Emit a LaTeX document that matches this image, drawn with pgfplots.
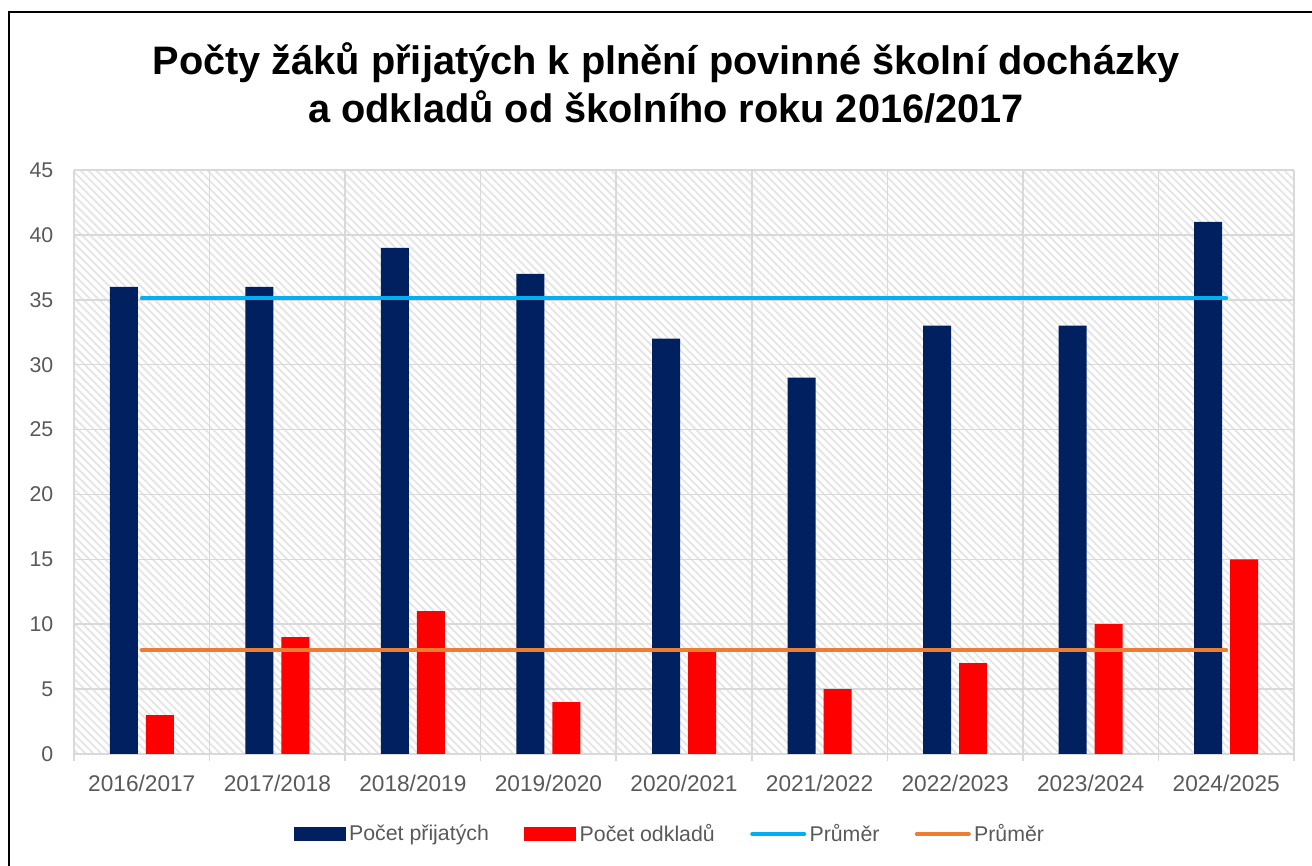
\documentclass[border=0pt]{standalone}
\usepackage{pgfplots}
\pgfplotsset{compat=1.18}
\usepackage{fontspec}
\setmainfont{Liberation Sans}
\usetikzlibrary{patterns.meta}
\definecolor{navy}{HTML}{002060}
\definecolor{avgblue}{HTML}{00B0F0}
\definecolor{avgorange}{HTML}{ED7D31}
\definecolor{txtgray}{HTML}{595959}
\definecolor{gridgray}{HTML}{D9D9D9}
\begin{document}
\begin{tikzpicture}
\path[use as bounding box] (0,0) rectangle (984pt,649.5pt);
\draw[line width=1.5pt] (6.75pt,-5pt) -- (6.75pt,640.5pt) -- (990pt,640.5pt);
\node[align=center, font=\fontsize{29.8}{36}\selectfont\bfseries] at (499.5pt,587.5pt)
  {Počty žáků přijatých k plnění povinné školní docházky\\a odkladů od školního roku 2016/2017};
\begin{axis}[
  at={(55.5pt,84pt)}, anchor=south west,
  scale only axis, width=915pt, height=438pt,
  xmin=-0.5, xmax=8.5, ymin=0, ymax=45,
  ytick={0,5,...,45},
  xtick={0,...,8},
  xticklabels={2016/2017,2017/2018,2018/2019,2019/2020,2020/2021,2021/2022,2022/2023,2023/2024,2024/2025},
  minor xtick={-0.5,0.5,...,8.5},
  x tick style={draw=none},
  minor x tick style={draw=gridgray, line width=1.2pt},
  minor tick length=5pt,
  xminorgrids=true, ymajorgrids=true,
  grid style={draw=gridgray, line width=1.2pt},
  minor grid style={draw=gridgray, line width=1.2pt},
  y tick style={draw=none},
  axis line style={draw=none},
  axis x line*=bottom,
  x axis line style={draw=gridgray, line width=1.2pt},
  yticklabel style={font=\fontsize{16}{19}\selectfont, text=txtgray, xshift=-12pt},
  xticklabel style={font=\fontsize{17}{20}\selectfont, text=txtgray, yshift=-8pt},
  /pgf/number format/assume math mode=true,
  axis background/.style={pattern={Lines[angle=-45,distance=4.2pt,line width=1.4pt]}, pattern color=gray!20},
  ybar, bar width=21pt,
  legend columns=4,
  legend style={at={(0.489,-0.137)}, anchor=center, draw=none, fill=none,
    font=\fontsize{16}{19}\selectfont, text=txtgray, column sep=0pt,
    nodes={inner xsep=2.5pt}},
  legend cell align=left,
]
\addplot[fill=navy, draw=none, bar shift=-13.5pt,
  legend image code/.code={\fill[navy] (0pt,-5pt) rectangle (39pt,5pt);}]
  coordinates {(0,36) (1,36) (2,39) (3,37) (4,32) (5,29) (6,33) (7,33) (8,41)};
\addlegendentry{Počet přijatých\rule{24pt}{0pt}}
\addplot[fill=red, draw=none, bar shift=13.5pt,
  legend image code/.code={\fill[red] (0pt,-5pt) rectangle (39pt,5pt);}]
  coordinates {(0,3) (1,9) (2,11) (3,4) (4,8) (5,5) (6,7) (7,10) (8,15)};
\addlegendentry{Počet odkladů\rule{24pt}{0pt}}
\addplot[sharp plot, draw=avgblue, line width=3pt, line cap=round,
  legend image code/.code={\draw[avgblue, line width=3pt, line cap=round] (0pt,0pt) -- (39pt,0pt);}]
  coordinates {(0,35.11) (8,35.11)};
\addlegendentry{Průměr\rule{24pt}{0pt}}
\addplot[sharp plot, draw=avgorange, line width=3pt, line cap=round,
  legend image code/.code={\draw[avgorange, line width=3pt, line cap=round] (0pt,0pt) -- (39pt,0pt);}]
  coordinates {(0,8) (8,8)};
\addlegendentry{Průměr}
\end{axis}
\end{tikzpicture}
\end{document}
